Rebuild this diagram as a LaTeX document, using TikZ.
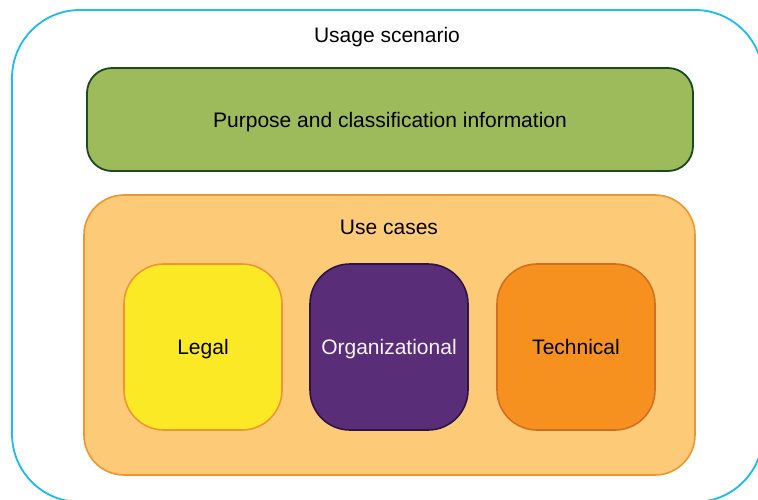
\documentclass[tikz,border=0pt]{standalone}
\usepackage{fontspec}
\setmainfont{Liberation Sans}
\definecolor{scenarioblue}{HTML}{1DBBEE}
\definecolor{purposefill}{HTML}{9DBB5A}
\definecolor{purposeline}{HTML}{1B4A22}
\definecolor{usefill}{HTML}{FDCA78}
\definecolor{useline}{HTML}{EF9531}
\definecolor{legalfill}{HTML}{FBE925}
\definecolor{orgfill}{HTML}{5A2D78}
\definecolor{orgline}{HTML}{2C1446}
\definecolor{techfill}{HTML}{F6901F}
\definecolor{techline}{HTML}{D36F20}
\begin{document}
\begin{tikzpicture}[x=1pt,y=-1pt,
  every node/.style={font=\fontsize{21}{25}\selectfont,text height=3.3ex,text depth=0.3ex},
  casebox/.style={rectangle,rounded corners=40pt,line width=1.6pt,minimum width=158pt,minimum height=166pt}]
  \useasboundingbox (0,0) rectangle (758,499);
  \node (scenario) at (387.5,256) [draw=scenarioblue,line width=1.8pt,rounded corners=68pt,minimum width=751pt,minimum height=492pt] {};
  \node (scenariotitle) at (387,35) {Usage scenario};
  \node (purpose) at (390,119.5) [draw=purposeline,fill=purposefill,line width=1.8pt,rounded corners=25pt,minimum width=606pt,minimum height=103pt] {Purpose and classification information};
  \node (usecases) at (389.5,335) [draw=useline,fill=usefill,line width=1.6pt,rounded corners=40pt,minimum width=611pt,minimum height=280pt] {};
  \node (usetitle) at (389,227) {Use cases};
  \node (legal) at (203,347) [casebox,draw=useline,fill=legalfill] {Legal};
  \node (org) at (389,347) [casebox,draw=orgline,fill=orgfill,text=white!92!gray] {Organizational};
  \node (tech) at (576,347) [casebox,draw=techline,fill=techfill] {Technical};
\end{tikzpicture}
\end{document}
